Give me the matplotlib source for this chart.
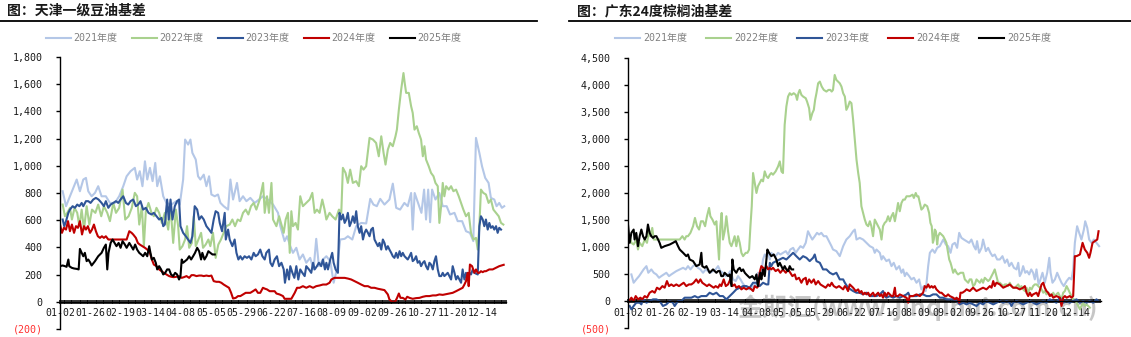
import matplotlib
matplotlib.use("Agg")
import matplotlib.pyplot as plt
from matplotlib.lines import Line2D
from matplotlib.ticker import FixedLocator, MultipleLocator

plt.rcParams['font.family'] = ['Noto Sans CJK SC', 'DejaVu Sans']
MONO = ['DejaVu Sans Mono', 'Noto Sans CJK SC']

# ---------------- data ----------------
years = ['2021年度', '2022年度', '2023年度', '2024年度', '2025年度']
colors = ['#B4C7E7', '#A9D18E', '#2F5597', '#C00000', '#000000']
date_labels = ['01-02', '01-26', '02-19', '03-14', '04-08', '05-05', '05-29', '06-22',
               '07-16', '08-09', '09-02', '09-26', '10-27', '11-20', '12-14']
label_every = 17  # trading days between labels

left_title = '图：天津一级豆油基差'
right_title = '图：广东24度棕榈油基差'
watermark = '金期汇(www.jinqihui.com.cn)'

left_yticks = [-200, 0, 200, 400, 600, 800, 1000, 1200, 1400, 1600, 1800]
left_ylabels = ['(200)', '0', '200', '400', '600', '800', '1,000', '1,200', '1,400', '1,600', '1,800']
right_yticks = [-500, 0, 500, 1000, 1500, 2000, 2500, 3000, 3500, 4000, 4500]
right_ylabels = ['(500)', '0', '500', '1,000', '1,500', '2,000', '2,500', '3,000', '3,500', '4,000', '4,500']

# (trading-day index, basis) pairs
soy_2021 = [(1.5,813),(3.4,703),(5.6,776),(7.9,850),(9.4,899),(11.2,813),(13.1,899),(14.6,911),(15.9,813),(17.8,776),(19.7,801),(21.5,850),(23.4,776),(25.8,776),(28.1,727),(30.9,727),(33.3,776),(35.6,850),(37.5,923),(39.7,960),(42.1,985),(43.4,899),(44.9,960),(46.4,850),(47.8,1033),(49.1,899),(50.6,985),(52.1,887),(53.6,1021),(54.7,850),(56.2,923),(58.1,776),(59.9,727),(62.7,715),(65.5,740),(67.4,715),(69.3,899),(70.4,1193),(72.1,1156),(73.4,1193),(74.5,1095),(76.4,1046),(77.7,923),(79.0,899),(80.9,935),(82.4,850),(83.9,923),(85.2,789),(87.1,776),(88.9,789),(90.3,727),(92.1,703),(94.6,678),(95.9,899),(97.4,752),(99.6,874),(101.1,740),(103.0,776),(104.9,740),(107.1,764),(109.6,727),(112.0,752),(114.2,776),(117.0,752),(119.9,715),(122.7,654),(124.0,556),(126.4,446),(127.8,482),(129.6,409),(131.1,360),(133.0,397),(134.8,311),(136.7,348),(138.6,287),(140.8,323),(142.7,238),(144.2,463),(145.7,262),(148.0,311),(149.9,335),(152.1,299),(154.0,140),(155.8,238),(157.7,458),(160.2,463),(162.0,482),(164.5,458),(166.7,556),(169.5,580),(172.3,576),(174.6,757),(176.4,715),(178.3,703),(180.2,757),(182.6,715),(185.4,752),(187.3,869),(189.2,691),(191.4,678),(193.8,727),(195.7,703),(197.6,800),(198.5,531),(199.6,800),(201.5,727),(203.4,654),(204.9,825),(206.0,605),(207.2,825),(208.3,585),(209.4,825),(211.3,752),(213.5,800),(215.4,703),(217.6,703),(219.5,642),(222.0,654),(223.8,593),(226.3,593),(228.5,519),(230.7,507),(232.6,446),(234.1,1205),(236.0,1095),(237.5,997),(239.3,911),(241.2,874),(242.5,764),(244.4,752),(245.7,703),(247.2,727),(248.7,691),(250.0,703)]
soy_2022 = [(1.5,715),(2.8,629),(4.1,654),(5.6,691),(6.7,605),(8.2,691),(9.7,654),(10.9,556),(12.2,678),(13.5,531),(15.0,703),(16.5,568),(18.0,678),(19.9,654),(21.5,715),(23.2,629),(24.7,703),(26.6,654),(28.1,593),(30.0,727),(31.5,654),(33.3,691),(35.2,825),(36.7,605),(38.6,629),(40.4,691),(42.1,801),(43.4,776),(44.6,568),(46.1,703),(47.2,409),(48.3,666),(49.8,727),(51.5,654),(52.8,629),(54.3,691),(55.8,654),(57.3,580),(59.0,654),(60.9,531),(62.2,703),(63.7,433),(65.2,678),(66.5,556),(67.4,384),(68.9,409),(70.4,458),(71.5,556),(72.7,397),(74.2,433),(75.3,629),(76.4,409),(77.9,458),(79.4,507),(80.5,397),(82.0,421),(83.5,458),(84.6,409),(86.1,507),(87.6,323),(89.1,421),(90.6,458),(92.1,507),(93.6,556),(95.5,568),(97.0,605),(98.5,556),(100.0,605),(101.5,593),(103.0,654),(104.5,678),(106.0,642),(107.5,703),(109.0,727),(110.5,678),(112.4,752),(114.3,874),(115.2,654),(116.5,776),(117.6,654),(119.0,874),(119.9,605),(121.8,556),(123.3,629),(124.6,568),(125.9,507),(127.0,605),(128.3,654),(129.3,360),(130.2,666),(131.1,556),(132.6,580),(133.9,531),(135.2,776),(136.7,703),(138.6,727),(140.5,752),(142.0,801),(143.3,654),(144.6,678),(146.1,654),(147.6,752),(148.9,678),(149.9,605),(151.7,654),(153.2,629),(155.1,605),(157.0,678),(158.3,654),(159.2,985),(160.7,948),(162.0,874),(163.3,972),(164.8,874),(166.7,887),(168.2,850),(169.5,997),(170.8,972),(172.3,997),(174.2,1205),(176.1,1193),(177.9,1168),(179.4,1070),(180.8,1217),(182.1,1095),(183.2,1009),(184.5,1119),(185.8,1168),(187.3,1144),(188.8,1217),(189.6,1266),(190.7,1413),(192.0,1560),(193.3,1682),(194.0,1609),(194.8,1536),(196.3,1536),(197.6,1438),(198.5,1389),(199.5,1266),(200.8,1291),(201.9,1242),(203.2,1193),(204.2,1070),(205.1,1144),(206.0,1046),(207.5,997),(208.8,948),(210.2,923),(211.3,874),(212.6,850),(213.5,580),(214.5,703),(215.4,874),(216.3,776),(217.3,850),(218.8,825),(220.1,850),(221.4,813),(222.9,825),(224.4,776),(225.7,727),(227.0,678),(228.5,629),(230.0,654),(231.3,507),(232.6,458),(234.1,470),(235.1,384),(236.0,556),(236.9,825),(238.2,801),(239.7,789),(241.2,727),(242.5,752),(243.9,678),(245.4,654),(246.9,629),(248.2,580),(249.5,568)]
soy_2023 = [(1.5,605),(2.4,556),(3.4,593),(4.7,654),(5.6,678),(7.1,703),(8.4,691),(9.7,715),(10.9,703),(12.2,727),(13.1,703),(14.6,740),(15.9,740),(17.2,727),(18.7,752),(20.2,764),(21.7,752),(23.4,727),(24.7,703),(25.8,740),(27.2,691),(28.5,715),(30.0,727),(31.5,740),(32.8,727),(34.1,752),(35.6,776),(37.1,727),(38.4,715),(39.7,740),(41.2,752),(42.7,703),(44.0,715),(45.3,740),(46.8,678),(48.3,691),(49.8,654),(51.5,642),(52.8,654),(54.3,629),(55.8,605),(57.1,617),(58.1,556),(59.0,568),(60.3,752),(61.2,605),(62.2,752),(63.3,605),(64.6,703),(65.9,740),(67.0,752),(67.8,556),(69.3,507),(70.8,482),(72.1,458),(73.4,433),(74.5,482),(75.8,703),(77.2,678),(78.3,605),(79.6,629),(80.9,605),(82.4,556),(83.9,531),(85.2,507),(86.5,605),(87.6,666),(89.0,654),(89.9,580),(91.2,519),(92.7,654),(93.3,458),(94.6,531),(95.5,458),(97.0,409),(98.3,458),(99.3,360),(100.4,311),(101.5,335),(102.6,311),(103.9,335),(105.2,323),(106.4,335),(107.7,311),(109.0,360),(110.1,335),(111.4,348),(112.7,384),(113.9,335),(115.2,311),(116.1,360),(117.6,384),(118.4,287),(119.5,262),(120.8,311),(122.1,335),(123.3,262),(124.6,287),(125.9,238),(126.6,140),(127.8,238),(128.9,164),(129.6,262),(130.8,213),(131.9,176),(133.0,262),(134.1,164),(135.2,238),(136.4,213),(137.7,189),(138.6,262),(140.1,238),(141.4,213),(142.4,287),(143.3,238),(144.6,262),(145.7,287),(147.0,262),(148.0,311),(149.1,238),(149.9,287),(150.8,238),(152.1,311),(153.2,360),(154.0,287),(155.1,238),(156.4,213),(157.3,654),(158.3,605),(159.2,642),(160.2,580),(161.1,605),(162.0,654),(163.0,556),(164.1,593),(164.8,629),(165.8,580),(166.7,666),(167.6,556),(168.6,507),(169.5,556),(170.5,458),(171.4,507),(172.3,531),(173.3,507),(174.2,482),(175.1,531),(176.1,544),(177.0,458),(178.0,433),(178.9,409),(179.8,433),(180.8,384),(181.7,458),(182.6,433),(183.6,384),(184.5,409),(185.4,384),(186.4,360),(187.3,335),(188.2,323),(189.2,360),(190.1,323),(191.1,372),(192.0,335),(192.9,360),(193.9,335),(194.8,323),(195.7,311),(196.7,335),(197.6,360),(198.5,299),(199.5,311),(200.4,335),(201.3,287),(202.3,299),(203.2,262),(204.2,287),(205.1,299),(206.0,262),(207.0,238),(207.9,287),(208.8,274),(209.8,238),(210.7,299),(211.6,335),(212.6,238),(213.5,189),(214.5,189),(215.4,213),(216.3,189),(217.3,201),(218.2,213),(219.1,189),(220.1,164),(221.0,262),(222.0,213),(222.9,164),(223.8,189),(224.8,164),(225.7,140),(226.6,238),(227.6,164),(228.5,213),(229.4,176),(230.4,213),(231.3,201),(232.3,238),(233.2,213),(235.1,201),(236.0,556),(236.9,629),(237.9,605),(238.8,556),(239.7,605),(240.7,531),(241.6,580),(242.5,544),(243.5,556),(244.4,531),(245.4,556),(246.3,507),(247.2,544),(248.2,531)]
soy_2024 = [(0,568),(1.1,507),(2.2,544),(3.4,531),(4.5,593),(5.6,519),(6.7,568),(7.9,507),(9.0,556),(10.1,544),(11.2,593),(12.4,495),(13.5,556),(14.6,531),(15.7,556),(16.9,507),(18.0,531),(19.1,568),(20.2,519),(21.3,482),(22.5,470),(23.6,482),(24.7,470),(25.8,482),(27.2,458),(30.0,458),(33.7,458),(37.5,458),(39.0,519),(40.3,507),(41.2,495),(42.7,470),(43.8,433),(44.9,421),(46.4,409),(47.8,397),(49.1,384),(50.6,360),(51.7,311),(52.8,274),(54.3,262),(55.8,238),(57.1,225),(58.4,213),(59.9,201),(61.4,189),(62.7,184),(64.0,181),(65.5,184),(67.0,189),(68.4,176),(69.7,181),(71.2,189),(72.7,176),(74.0,196),(75.3,196),(76.8,189),(78.3,193),(79.6,193),(80.9,189),(82.4,193),(83.9,189),(85.2,193),(86.5,152),(88.0,147),(89.5,147),(90.8,140),(92.1,127),(93.6,115),(95.1,103),(96.3,66),(97.4,24),(98.9,29),(100.2,42),(101.5,42),(103.0,54),(104.5,66),(105.8,66),(107.1,66),(108.6,78),(110.1,91),(111.4,66),(112.7,66),(114.2,103),(115.4,96),(116.5,91),(118.0,78),(119.5,78),(120.8,78),(121.8,61),(123.6,54),(125.5,42),(126.4,22),(128.3,22),(130.2,22),(132.1,66),(133.4,103),(134.9,103),(136.7,115),(138.6,103),(140.5,115),(142.4,103),(144.2,115),(146.1,120),(148.0,127),(149.9,127),(151.7,140),(152.7,164),(154.5,176),(157.3,176),(160.2,176),(162.0,171),(163.9,164),(165.8,152),(167.6,140),(169.5,127),(171.4,115),(173.3,115),(175.1,103),(177.0,103),(178.9,96),(180.8,91),(182.6,86),(184.5,54),(185.4,17),(186.4,5),(187.3,-2),(188.8,5),(189.7,29),(190.7,61),(191.6,29),(192.9,29),(194.4,17),(195.4,37),(196.7,29),(198.5,22),(200.4,27),(202.3,29),(204.2,37),(206.0,42),(207.9,42),(209.8,47),(211.6,47),(213.5,54),(215.4,51),(217.3,56),(219.1,61),(221.0,66),(222.9,78),(224.8,91),(226.6,103),(227.6,127),(228.5,152),(229.4,213),(230.0,115),(230.7,274),(231.9,262),(233.2,213),(234.1,238),(235.1,213),(236.0,213),(236.9,225),(237.9,218),(238.8,225),(239.7,225),(241.6,238),(243.5,238),(245.4,250),(247.2,262),(248.5,267),(249.7,272)]
soy_2025 = [(0,262),(1.5,267),(2.8,262),(3.7,257),(4.7,311),(5.2,262),(6.6,250),(7.9,245),(9.4,242),(10.5,238),(11.2,389),(12.2,360),(13.1,335),(14.0,360),(15.0,299),(15.9,311),(16.9,291),(17.8,267),(19.7,299),(21.5,335),(23.4,360),(24.7,397),(25.8,421),(26.6,238),(27.3,360),(28.5,433),(29.6,458),(30.7,433),(31.8,409),(33.0,433),(34.1,397),(35.2,446),(36.5,421),(37.5,397),(39.0,433),(40.1,409),(41.2,384),(42.3,421),(43.4,384),(44.6,360),(45.7,348),(46.8,335),(47.9,360),(49.1,335),(50.2,409),(50.9,360),(51.7,311),(52.8,323),(53.9,287),(54.7,238),(55.8,262),(56.9,238),(58.1,201),(59.2,213),(60.3,238),(61.4,238),(62.5,201),(63.7,189),(64.8,213),(65.9,201),(67.0,164),(67.8,189),(68.5,311),(69.3,287),(70.4,299),(71.5,311),(72.7,335),(73.8,311),(74.9,335),(76.0,360),(77.2,397),(78.3,372),(79.4,311),(80.1,360),(81.3,311),(82.4,335),(83.5,372),(84.6,360),(85.8,348),(87.1,348)]

palm_2021 = [(1.8,493),(3.0,339),(4.4,401),(5.9,462),(7.1,524),(8.3,586),(9.8,647),(10.8,524),(12.4,586),(13.7,524),(15.1,493),(16.5,431),(17.7,462),(19.0,493),(20.4,524),(21.8,462),(23.0,493),(24.3,524),(25.7,555),(27.5,586),(29.3,616),(30.7,586),(31.9,647),(33.2,586),(34.6,647),(36.0,678),(37.2,616),(38.5,586),(39.9,524),(41.3,586),(42.6,555),(43.8,524),(45.2,555),(46.6,586),(47.9,647),(49.1,555),(50.5,524),(51.9,462),(53.2,493),(54.4,555),(55.9,401),(57.3,370),(58.5,462),(59.8,401),(60.8,339),(62.1,277),(63.3,247),(64.7,216),(66.1,247),(67.4,308),(68.3,277),(69.1,524),(70.0,401),(70.9,524),(71.8,770),(72.7,863),(73.6,832),(74.5,894),(75.4,770),(76.2,894),(77.1,863),(78.5,832),(79.8,894),(81.0,863),(82.4,894),(83.9,925),(85.1,863),(86.3,955),(87.8,986),(89.2,894),(90.4,955),(91.7,1017),(93.1,986),(94.5,1079),(95.7,1294),(97.0,1202),(98.0,1140),(99.3,1202),(100.5,1264),(101.6,1233),(102.8,1264),(104.1,1202),(105.5,1202),(106.4,1140),(107.3,1079),(108.2,1017),(109.0,955),(110.8,925),(112.6,832),(114.4,1017),(116.1,1140),(117.9,1202),(119.7,1294),(120.6,1325),(121.5,1140),(123.2,1171),(125.0,1140),(126.8,1079),(128.6,1017),(130.3,986),(131.2,894),(132.1,955),(133.9,894),(134.8,770),(135.6,832),(137.4,740),(138.8,770),(140.1,647),(141.3,709),(142.7,586),(144.2,647),(145.4,524),(146.3,586),(147.2,462),(148.1,524),(149.5,462),(150.7,401),(152.0,431),(153.4,339),(154.8,401),(156.0,216),(157.3,277),(158.3,185),(159.6,647),(160.5,894),(161.9,955),(163.1,894),(164.4,986),(165.8,1017),(167.6,1140),(169.0,1048),(170.2,1017),(171.5,894),(172.5,1048),(173.8,1079),(175.0,986),(176.1,1264),(177.3,1171),(178.6,1140),(180.0,1110),(181.4,1079),(182.6,1140),(183.9,1017),(184.9,955),(185.6,1110),(186.7,894),(188.0,986),(188.8,1140),(190.3,925),(191.5,986),(192.7,894),(193.8,832),(195.0,863),(196.3,770),(197.7,770),(199.1,832),(200.4,709),(201.6,770),(202.7,647),(203.9,709),(205.2,616),(206.6,586),(207.5,709),(208.3,462),(209.2,524),(210.1,647),(211.2,524),(212.2,555),(213.3,493),(214.4,586),(215.4,524),(216.3,401),(217.2,586),(218.3,308),(219.3,401),(220.4,524),(221.6,339),(222.9,524),(224.0,801),(224.7,524),(225.7,339),(227.0,401),(228.2,524),(229.3,431),(230.5,339),(231.7,277),(233.2,370),(234.6,431),(235.8,401),(236.7,586),(237.6,1079),(238.8,1387),(239.9,1264),(241.1,1140),(242.4,1325),(243.1,1479),(244.2,1356),(245.2,1140),(246.5,1079),(247.7,1140),(249.1,1079),(250.5,1017)]
palm_2022 = [(0.9,1202),(1.8,1079),(3.0,1048),(4.4,1140),(5.3,955),(6.2,1079),(7.6,1017),(8.9,1140),(10.1,1079),(11.2,1294),(11.9,1202),(12.9,1356),(13.7,1140),(15.1,1140),(16.8,1140),(18.6,1140),(20.4,1140),(22.2,1140),(23.9,1140),(25.7,1140),(27.5,1140),(28.9,1202),(30.1,1140),(31.0,1202),(31.9,1202),(33.2,1264),(34.6,1387),(35.6,1541),(36.7,1387),(37.8,1325),(38.8,1479),(39.9,1479),(41.0,1387),(42.0,1572),(43.1,1726),(43.8,1572),(44.9,1510),(46.1,1418),(47.0,1479),(47.9,1017),(48.4,770),(49.1,1387),(49.8,1633),(50.5,1140),(51.4,1294),(52.3,1572),(53.2,1294),(54.1,1079),(55.0,1017),(55.9,1110),(56.7,1202),(57.6,1017),(58.5,1202),(59.4,1079),(60.3,894),(61.2,832),(62.6,894),(63.5,894),(64.4,955),(65.1,1387),(65.8,1757),(66.5,2373),(67.4,2188),(68.3,2003),(69.1,2127),(70.0,2188),(70.9,2250),(71.8,2219),(72.7,2404),(73.6,2312),(74.5,2281),(75.4,2342),(76.2,2373),(77.1,2342),(78.5,2404),(79.8,2496),(80.7,2589),(81.6,2404),(82.4,2373),(83.3,3267),(84.2,3606),(85.1,3791),(86.0,3853),(86.9,3822),(88.1,3853),(89.2,3822),(89.9,3729),(90.6,3853),(91.3,3914),(92.2,3822),(93.1,3791),(94.5,3760),(95.2,3698),(96.3,3575),(97.0,3359),(98.0,3483),(98.8,3544),(99.5,3729),(100.2,3853),(101.1,4037),(102.0,4068),(103.0,3976),(104.1,3914),(105.5,3883),(106.6,3914),(107.6,3914),(108.3,3883),(109.0,3914),(109.9,4191),(110.8,4099),(111.7,4068),(112.6,4037),(113.5,3976),(114.4,3853),(115.3,3791),(116.1,3544),(117.0,3606),(117.9,3698),(118.8,3668),(119.7,3359),(120.6,2990),(121.5,2620),(122.4,2373),(123.2,2188),(124.1,1757),(125.0,1633),(125.9,1510),(126.8,1418),(127.7,1387),(128.6,1479),(129.4,1387),(130.3,1202),(131.2,1510),(132.1,1449),(133.0,1387),(133.9,1325),(134.8,1140),(135.6,1387),(136.5,1449),(137.4,1479),(138.3,1572),(139.2,1479),(140.1,1572),(141.0,1633),(141.9,1479),(142.7,1633),(143.6,1818),(144.5,1664),(145.4,1818),(146.3,1880),(147.2,1880),(148.1,1942),(149.8,1942),(151.3,1972),(152.0,1911),(153.0,2003),(153.7,1942),(154.4,1942),(155.2,1818),(156.0,1695),(156.9,1726),(157.8,1788),(159.1,1757),(160.1,1633),(160.8,1449),(161.5,1387),(162.1,1079),(162.6,1140),(163.1,1325),(163.7,1294),(164.4,1048),(164.9,1202),(165.8,1264),(166.7,1233),(167.6,1202),(168.5,1140),(169.3,1079),(170.2,894),(170.8,770),(171.5,709),(172.0,647),(172.9,524),(173.8,586),(174.7,524),(175.5,493),(176.8,524),(178.2,524),(179.1,401),(180.0,370),(180.9,339),(181.7,401),(182.6,401),(183.5,277),(184.4,308),(185.3,401),(186.2,370),(187.1,339),(188.0,401),(188.8,339),(189.7,431),(190.6,401),(191.5,370),(192.4,401),(193.3,462),(194.2,524),(195.0,586),(195.9,462),(196.8,339),(197.7,339),(198.6,308),(199.5,277),(200.4,308),(201.3,308),(202.1,277),(203.0,339),(203.9,277),(204.8,247),(205.7,247),(206.6,277),(207.5,308),(208.3,247),(209.2,277),(210.1,216),(211.0,185),(211.9,247),(212.8,154),(213.7,247),(214.6,216),(215.4,277),(216.3,308),(217.2,308),(218.1,277),(219.0,247),(219.9,216),(220.8,154),(221.6,185),(222.5,123),(223.4,154),(224.3,123),(225.2,92),(226.1,154),(227.0,92),(227.8,123),(228.7,154),(229.6,92),(230.5,31),(231.4,154),(232.3,185),(233.2,277),(234.1,216),(234.9,154),(235.8,92),(236.7,31),(237.6,31),(238.5,-31),(239.4,-92),(240.3,-154),(241.1,-92),(242.0,-31),(242.9,-92),(243.8,-62),(244.7,-92),(245.6,-123)]
palm_2023 = [(0.9,-92),(1.8,-154),(3.0,-92),(4.4,-31),(6.2,-31),(7.1,-62),(8.0,31),(9.8,-31),(11.5,0),(13.3,31),(15.1,31),(16.8,0),(18.6,-92),(20.4,-62),(22.2,0),(23.9,-31),(24.8,-92),(26.6,0),(28.4,0),(30.1,62),(31.9,62),(33.7,62),(35.5,92),(37.2,62),(39.0,92),(41.7,92),(43.4,154),(45.2,123),(47.0,154),(48.8,92),(50.5,92),(52.3,31),(54.1,92),(55.9,154),(57.6,216),(59.4,247),(61.2,277),(62.9,277),(64.7,247),(66.5,339),(68.3,339),(70.0,277),(71.8,339),(73.6,308),(74.6,308),(75.4,709),(76.2,647),(77.1,709),(78.9,740),(80.7,770),(82.4,801),(84.2,770),(86.0,832),(87.8,894),(89.5,832),(91.3,770),(93.1,832),(94.9,801),(96.6,740),(98.4,801),(99.3,863),(100.2,740),(102.0,709),(103.7,586),(105.5,586),(107.3,524),(109.0,493),(110.8,524),(112.6,401),(114.4,401),(115.3,339),(117.0,247),(119.7,185),(121.5,154),(123.2,154),(125.0,123),(126.8,154),(128.6,92),(130.3,92),(132.1,92),(133.9,123),(135.6,185),(136.5,92),(137.4,62),(139.2,92),(141.0,62),(142.7,92),(144.5,62),(146.3,92),(148.1,123),(149.0,154),(149.8,92),(151.6,92),(153.4,92),(155.2,123),(156.9,123),(158.7,92),(160.5,92),(162.2,123),(164.0,123),(165.8,62),(167.6,62),(169.3,31),(171.1,31),(172.9,31),(174.7,0),(176.4,-62),(178.2,-31),(180.0,-62),(181.7,-31),(183.5,-62),(185.3,-92),(187.1,-31),(188.8,-62),(190.6,0),(192.4,-31),(194.2,-62),(195.9,-31),(197.7,0),(199.5,-31),(201.3,0),(203.0,-31),(203.9,-92),(204.8,-31),(206.6,0),(208.3,-31),(210.1,-62),(211.9,-31),(213.7,0),(215.4,-31),(217.2,-62),(219.0,-31),(220.8,0),(222.5,-31),(224.3,31),(226.1,0),(227.8,-31),(229.6,62),(231.4,-31),(233.2,0),(234.9,-31),(236.7,0),(238.5,31),(240.3,-31),(242.0,0),(243.8,-31),(245.6,0),(247.4,-31),(249.1,31),(250.0,0)]
palm_2024 = [(0.5,0),(1.8,62),(3.0,0),(4.1,92),(5.3,31),(6.6,62),(7.6,31),(8.9,92),(10.1,62),(11.5,154),(12.9,185),(14.2,154),(15.4,247),(16.8,216),(18.3,277),(19.5,247),(20.7,370),(21.8,277),(23.0,308),(24.3,277),(25.7,308),(27.1,277),(28.4,308),(29.6,339),(31.0,277),(32.4,308),(33.7,308),(34.9,339),(36.3,401),(37.4,339),(38.5,401),(39.5,339),(40.8,308),(42.0,277),(43.1,308),(44.3,277),(45.6,247),(46.6,277),(47.9,247),(48.8,308),(49.6,277),(50.9,401),(52.0,277),(53.2,308),(54.4,401),(55.5,277),(56.7,308),(57.6,247),(59.0,277),(60.3,216),(61.5,247),(62.9,216),(64.4,247),(65.6,216),(66.5,185),(67.4,277),(68.6,247),(69.3,277),(70.0,524),(70.9,647),(71.8,616),(72.7,586),(73.6,647),(74.5,586),(75.4,616),(76.2,586),(77.1,616),(78.5,555),(79.8,586),(81.0,524),(82.4,586),(83.9,524),(85.1,586),(86.3,524),(87.4,462),(88.7,493),(89.5,401),(90.9,431),(92.2,339),(93.1,401),(94.5,431),(95.2,308),(96.3,401),(97.5,339),(98.8,401),(99.8,308),(101.1,370),(102.3,308),(103.7,277),(105.1,247),(106.4,308),(107.3,277),(108.3,339),(109.4,277),(110.8,247),(112.2,277),(114.4,216),(115.3,277),(116.1,247),(117.0,185),(117.9,308),(118.8,277),(119.7,247),(121.1,185),(122.4,216),(123.2,154),(124.1,185),(125.0,123),(125.9,154),(126.8,123),(127.7,154),(128.6,92),(129.4,123),(130.3,154),(131.2,92),(132.1,123),(133.0,154),(133.9,92),(134.8,123),(135.6,62),(136.5,154),(137.4,92),(138.3,154),(139.2,123),(140.1,92),(141.0,92),(141.9,247),(142.4,92),(143.6,92),(144.5,123),(146.3,92),(148.1,62),(149.0,-31),(149.8,92),(151.6,92),(153.4,123),(155.2,92),(156.0,123),(156.9,154),(157.8,277),(158.7,247),(159.6,308),(160.5,247),(161.4,277),(162.2,247),(163.1,277),(164.0,216),(164.9,185),(165.8,154),(166.7,154),(167.6,123),(168.5,92),(169.3,92),(170.2,123),(171.1,92),(172.9,62),(173.8,31),(174.7,62),(175.5,31),(176.1,-31),(176.8,154),(177.8,154),(179.1,185),(180.0,216),(181.7,185),(183.5,247),(185.3,185),(187.1,216),(188.8,247),(190.6,216),(192.4,277),(193.3,247),(194.2,370),(195.0,277),(195.9,339),(197.7,308),(199.5,247),(201.3,277),(203.0,308),(203.9,277),(204.8,247),(206.6,247),(208.3,216),(210.1,247),(211.0,277),(211.9,154),(212.8,92),(213.7,154),(214.6,92),(215.4,123),(217.2,154),(218.1,92),(219.9,308),(220.8,339),(221.6,247),(222.5,185),(223.4,154),(224.3,92),(225.2,123),(226.1,62),(227.8,92),(229.6,62),(230.5,-92),(231.4,62),(232.3,92),(233.2,62),(234.9,92),(235.8,62),(236.7,92),(237.6,832),(238.5,832),(240.3,863),(241.7,1079),(242.9,955),(244.2,894),(245.2,801),(245.9,894),(247.0,1079),(248.2,1110),(249.5,1140),(250.2,1294)]
palm_2025 = [(0.0,1418),(0.9,1079),(1.8,1264),(3.0,1325),(3.5,1140),(4.4,1264),(5.3,1017),(6.2,1202),(7.1,1325),(8.0,1202),(8.9,1140),(9.8,1202),(10.6,1418),(11.5,1264),(12.4,1202),(13.3,1171),(14.2,1202),(15.1,1202),(16.0,1140),(16.8,1079),(17.7,986),(19.5,1017),(22.2,1048),(23.9,1079),(25.4,1110),(26.6,1017),(27.5,955),(29.3,894),(31.0,832),(31.9,863),(32.8,770),(34.6,740),(36.3,647),(38.1,678),(39.0,894),(39.5,647),(40.8,616),(41.7,647),(43.4,524),(45.2,586),(47.0,524),(47.9,555),(48.8,555),(49.6,462),(50.5,462),(51.4,524),(52.3,493),(53.2,462),(54.1,493),(55.0,277),(55.5,770),(56.2,586),(57.6,524),(58.5,586),(59.4,616),(60.3,555),(61.2,586),(62.1,524),(62.9,493),(64.7,431),(66.1,462),(67.4,401),(68.3,493),(69.1,277),(69.7,431),(70.4,524),(70.9,401),(71.8,586),(72.7,462),(73.6,770),(74.1,955),(75.0,894),(76.2,832),(77.5,863),(78.9,770),(79.8,647),(80.7,709),(82.4,586),(83.3,647),(84.2,586),(85.1,555),(86.0,647),(86.9,586),(87.8,586)]

soy_series = [soy_2021, soy_2022, soy_2023, soy_2024, soy_2025]
palm_series = [palm_2021, palm_2022, palm_2023, palm_2024, palm_2025]

# ---------------- figure ----------------
W, H = 1131, 337
fig = plt.figure(figsize=(W / 100, H / 100), dpi=100)


def fx(px):
    return px / W


def fy(py):
    return 1 - py / H


def panel(rect, series, xmax, yticks, ylabels):
    ax = fig.add_axes(rect)
    ax.patch.set_alpha(0)
    for s, c, lab in zip(series, colors, years):
        xs = [p[0] for p in s]
        ys = [p[1] for p in s]
        ax.plot(xs, ys, color=c, lw=1.5, label=lab, solid_joinstyle='round')
    ax.set_xlim(0, xmax)
    ax.set_ylim(yticks[0], yticks[-1])
    for sp in ('top', 'right'):
        ax.spines[sp].set_visible(False)
    ax.spines['bottom'].set_position(('data', 0))
    ax.spines['bottom'].set_linewidth(1.0)
    ax.spines['left'].set_linewidth(1.0)
    ax.set_yticks(yticks)
    ax.set_yticklabels(ylabels, family=MONO, fontsize=7.2)
    ax.tick_params(axis='y', direction='out', length=3, width=1, pad=9.5)
    for t, v in zip(ax.get_yticklabels(), yticks):
        t.set_color('#FF3030' if v < 0 else '#1a1a1a')
    ax.xaxis.set_major_locator(FixedLocator([i * label_every for i in range(len(date_labels))]))
    ax.set_xticklabels(date_labels, family=MONO, fontsize=7.1, color='#1a1a1a')
    ax.xaxis.set_minor_locator(MultipleLocator(1))
    ax.tick_params(axis='x', which='both', direction='inout', length=3.4, width=1.1, pad=3)
    return ax


axL = panel([fx(60), fy(329), fx(506 - 60), fy(57) - fy(329)], soy_series, 251,
            left_yticks, left_ylabels)
axR = panel([fx(628), fy(328), fx(1101 - 628), fy(58.3) - fy(328)], palm_series, 251.5,
            right_yticks, right_ylabels)

# titles and rules
fig.text(fx(7), fy(11), left_title, fontsize=10, fontweight='bold', va='center', ha='left', color='#1a1a1a')
fig.text(fx(577), fy(11), right_title, fontsize=10, fontweight='bold', va='center', ha='left', color='#1a1a1a')
fig.add_artist(Line2D([0, fx(537)], [fy(21), fy(21)], color='black', lw=1.3))
fig.add_artist(Line2D([fx(569), 1], [fy(21), fy(21)], color='black', lw=1.3))

# legends
for ax, cx, cs in ((axL, 253.5, 1.4), (axR, 833, 1.9)):
    h, l = ax.get_legend_handles_labels()
    ax.legend(h, l, loc='center', bbox_to_anchor=(fx(cx), fy(38)), bbox_transform=fig.transFigure,
              ncol=5, frameon=False, prop={'family': MONO, 'size': 7.2}, handlelength=2.5,
              handletextpad=0.3, columnspacing=cs, labelcolor='#808080', borderpad=0)

# watermark on the palm panel
axR.text(fx(738), fy(308), watermark, transform=fig.transFigure,
         fontsize=18, color='#b4b4b4', alpha=0.75, style='italic', fontweight='bold',
         va='center', ha='left', zorder=0.5, clip_on=False)

fig.savefig('out.png', dpi=100)
